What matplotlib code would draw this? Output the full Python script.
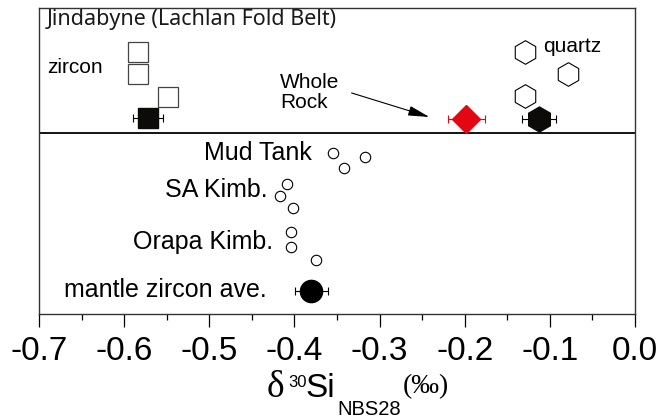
import matplotlib
matplotlib.use("Agg")
import matplotlib.pyplot as plt

plt.rcParams['font.family'] = ['Liberation Sans', 'DejaVu Sans']

# d30Si values (x) and stacking rows (y)
zircon_x = [-0.584, -0.584, -0.548]
zircon_y = [8.56, 7.84, 7.09]
zircon_ave_x, zircon_ave_y, zircon_ave_err = -0.572, 6.41, 0.018

quartz_x = [-0.129, -0.079, -0.129]
quartz_y = [8.56, 7.84, 7.12]
quartz_ave_x, quartz_ave_y, quartz_ave_err = -0.113, 6.37, 0.020

wr_x, wr_y, wr_err = -0.198, 6.37, 0.022

mud_x = [-0.355, -0.342, -0.317]
mud_y = [5.26, 4.77, 5.13]
sa_x = [-0.409, -0.417, -0.402]
sa_y = [4.25, 3.86, 3.46]
orapa_x = [-0.404, -0.404, -0.375]
orapa_y = [2.68, 2.19, 1.76]
mantle_x, mantle_y, mantle_err = -0.380, 0.75, 0.019

divider_y = 5.92

group_labels = ["Mud Tank", "SA Kimb.", "Orapa Kimb.", "mantle zircon ave."]
group_label_x = [-0.379, -0.431, -0.425, -0.433]
group_label_y = [5.26, 4.05, 2.35, 0.78]

xticks = [-0.7, -0.6, -0.5, -0.4, -0.3, -0.2, -0.1, 0.0]

fig = plt.figure(figsize=(6.61, 4.2), dpi=100)
ax = fig.add_axes([0.059, 0.2524, 0.9017, 0.7286])

# upper panel: Jindabyne
ax.plot(zircon_x, zircon_y, 's', ms=14.4, mfc='white', mec='#444444', mew=0.9)
ax.errorbar(zircon_ave_x, zircon_ave_y, xerr=zircon_ave_err, fmt='s', ms=14.4,
            mfc='#0d0b08', mec='#0d0b08', ecolor='black',
            elinewidth=0.8, capsize=3, capthick=0.8)
ax.plot(quartz_x, quartz_y, 'h', ms=17, mfc='white', mec='black', mew=0.8)
ax.errorbar(quartz_ave_x, quartz_ave_y, xerr=quartz_ave_err, fmt='h', ms=18,
            mfc='#0d0b08', mec='#0d0b08', ecolor='black',
            elinewidth=0.8, capsize=3, capthick=0.8)
ax.errorbar(wr_x, wr_y, xerr=wr_err, fmt='D', ms=14.5,
            mfc='#e30613', mec='#e30613', ecolor='#e30613',
            elinewidth=0.8, capsize=3, capthick=0.8)

ax.axhline(divider_y, color='black', lw=1.3)

# lower panel: reference zircons
for xs, ys in [(mud_x, mud_y), (sa_x, sa_y), (orapa_x, orapa_y)]:
    ax.plot(xs, ys, 'o', ms=7.5, mfc='white', mec='black', mew=0.8)
ax.errorbar(mantle_x, mantle_y, xerr=mantle_err, fmt='o', ms=16,
            mfc='black', mec='black', ecolor='black',
            elinewidth=0.8, capsize=3, capthick=0.8)

for lab, lx, ly in zip(group_labels, group_label_x, group_label_y):
    ax.text(lx, ly, lab, ha='right', va='center', fontsize=18)

ax.text(-0.6906, 9.61, "Jindabyne (Lachlan Fold Belt)", ha='left', va='center',
        fontsize=15.5, family=['Noto Sans', 'DejaVu Sans'], color='#1a1a1a')
ax.text(-0.6906, 8.04, "zircon", ha='left', va='center', fontsize=15)
ax.text(-0.108, 8.73, "quartz", ha='left', va='center', fontsize=15)
ax.text(-0.417, 7.25, "Whole\nRock", ha='left', va='center', fontsize=15,
        linespacing=1.05, multialignment='left')
ax.annotate("", xy=(-0.2384, 6.41), xytext=(-0.336, 7.25),
            arrowprops=dict(arrowstyle='-|>,head_length=1.3,head_width=0.3',
                            color='black', lw=0.8))

ax.set_xlim(-0.7, 0.0)
ax.set_ylim(0, 10)
ax.set_xticks(xticks)
ax.set_xticklabels(["%.1f" % t for t in xticks])
ax.set_xticks([-0.65, -0.55, -0.45, -0.35, -0.25, -0.15, -0.05], minor=True)
ax.tick_params(axis='x', which='major', direction='out', length=9, width=0.9,
               labelsize=24, pad=7)
ax.tick_params(axis='x', which='minor', direction='out', length=4, width=0.9)
ax.set_yticks([])
for s in ax.spines.values():
    s.set_linewidth(1.0)
    s.set_color('#333333')

# axis title built from pieces: delta^30 Si_NBS28 (permil)
serif = ['Liberation Serif', 'DejaVu Serif']
W, H = 661, 420
fig.text(267 / W, 1 - 397 / H, '\u03b4', ha='left', va='baseline', fontsize=27, family=serif)
fig.text(288 / W, 1 - 387 / H, '30', ha='left', va='baseline', fontsize=12)
fig.text(305 / W, 1 - 397 / H, 'Si', ha='left', va='baseline', fontsize=24)
fig.text(337 / W, 1 - 415 / H, 'NBS28', ha='left', va='baseline', fontsize=14.5)
fig.text(403 / W, 1 - 393 / H, '(\u2030)', ha='left', va='baseline', fontsize=20, family=serif)

fig.savefig("out.png", dpi=100)
